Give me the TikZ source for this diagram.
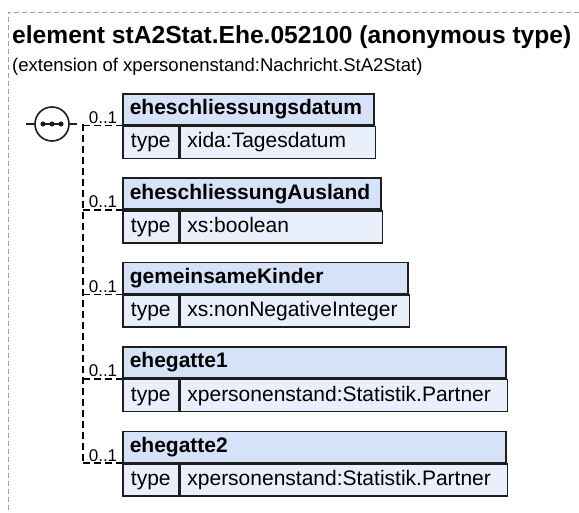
\documentclass[tikz,border=0pt]{standalone}
\usepackage{fontspec}
\setmainfont{Liberation Sans}
\usetikzlibrary{positioning}
\definecolor{hdrblue}{RGB}{213,226,247}
\definecolor{rowblue}{RGB}{233,240,252}
\definecolor{edgedark}{RGB}{30,30,30}
\definecolor{framegray}{RGB}{160,160,160}
\tikzset{
  hdr/.style={draw=edgedark, line width=1.6pt, fill=hdrblue, anchor=north west,
              font=\bfseries\fontsize{21}{24}\selectfont, align=left,
              minimum height=31pt, inner xsep=7pt, inner ysep=0pt,
              text height=15pt, text depth=4pt},
  typecell/.style={draw=edgedark, line width=1.6pt, fill=rowblue, anchor=north west,
              font=\fontsize{21}{24}\selectfont, minimum width=56pt,
              minimum height=32pt, inner xsep=7pt, inner ysep=0pt,
              text height=15pt, text depth=4pt},
  valcell/.style={typecell, align=left, minimum width=0pt},
  mult/.style={font=\fontsize{17}{19}\selectfont, anchor=base, inner sep=0pt},
  conn/.style={line width=1.6pt, dash pattern=on 7pt off 4pt},
  seqsym/.style={draw=edgedark, line width=1.6pt, fill=white, circle, minimum size=34pt, inner sep=0pt},
}
% one element box: name, top, width, label, type
\newcommand{\xsdelem}[5]{%
  \node[hdr, text width=#3pt-14pt] (#1) at (122,#2) {#4};
  \node[typecell] (#1t) at (#1.south west) {type};
  \node[valcell, text width=#3pt-70pt] (#1v) at (#1t.north east) {#5};
  \draw[conn] (trunk |- #1.south west) -- (#1.south west);
  \node[mult] (#1m) at ([xshift=-19pt,yshift=2pt]#1.south west) {0..1};
}

\begin{document}
\begin{tikzpicture}[x=1pt, y=-1pt]
  \useasboundingbox (0,0) rectangle (579,513);
  \draw[framegray, line width=0.8pt, dash pattern=on 5pt off 3pt] (579,12) -- (8,12) -- (8,513);
  \node[anchor=base west, inner sep=0pt, font=\bfseries\fontsize{24.6}{28}\selectfont] (title) at (12,44)
    {element stA2Stat.Ehe.052100 (anonymous type)};
  \node[anchor=base west, inner sep=0pt, font=\fontsize{18.5}{22}\selectfont] (subtitle) at (12,72)
    {(extension of xpersonenstand:Nachricht.StA2Stat)};

  \coordinate (trunk) at (83,124);
  \node[seqsym] (seq) at (52,124) {};
  \draw[edgedark, line width=1.6pt] (seq.west) -- ++(-8,0);
  \draw[edgedark, line width=1.6pt] (seq.east) -- ++(7,0);
  \draw[edgedark, line width=1.4pt] ([xshift=-11pt]seq.center) -- ([xshift=11pt]seq.center);
  \foreach \dx in {-9,0,9}
    \fill[edgedark] ([xshift=\dx pt]seq.center) circle (2.6pt);

  \xsdelem{datum}{93}{251}{eheschliessungsdatum}{xida:Tagesdatum}
  \xsdelem{ausland}{177.4}{258}{eheschliessungAusland}{xs:boolean}
  \xsdelem{kinder}{261.8}{285}{gemeinsameKinder}{xs:nonNegativeInteger}
  \xsdelem{gatte1}{346.2}{383}{ehegatte1}{xpersonenstand:Statistik.Partner}
  \xsdelem{gatte2}{430.6}{383}{ehegatte2}{xpersonenstand:Statistik.Partner}

  \draw[conn] (trunk) -- (trunk |- gatte2.south west);
\end{tikzpicture}
\end{document}
